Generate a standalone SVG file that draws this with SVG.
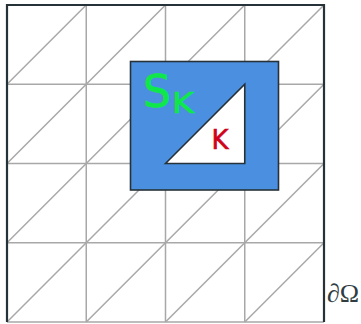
<svg xmlns="http://www.w3.org/2000/svg" width="361" height="324" viewBox="0 0 361 324">
<style>
.mesh{stroke:#a8a8a8;stroke-width:1.5;fill:none}
.frame{stroke:#263238;stroke-width:2.2;fill:none}
.dark{stroke:#263238;stroke-width:1.6}
.sans{font-family:"DejaVu Sans","Noto Sans",sans-serif}
.green{fill:#0ee84a;stroke:#0ee84a;stroke-width:0.7}
.red{fill:#d0021b;stroke:#d0021b;stroke-width:0.6}
</style>
<rect width="361" height="324" fill="#fff"/>
<g id="mesh" class="mesh">
<path d="M86.25 5V322M165.5 5V322M244.75 5V322M7 84.25H324M7 163.5H324M7 242.75H324M7 322H324"/>
<path d="M7 84.25L86.25 5M7 163.5L165.5 5M7 242.75L244.75 5M7 322L324 5M86.25 322L324 84.25M165.5 322L324 163.5M244.75 322L324 242.75"/>
</g>
<g id="boundary">
<path class="frame" d="M7 322V5H324V322"/>
<text x="327" y="302" font-family="Liberation Serif,serif" font-size="26" fill="#2f3d42">∂Ω</text>
</g>
<g id="patch">
<rect class="dark" x="130.5" y="61.5" width="148" height="128.5" fill="#4a8fe0"/>
<text class="sans green" x="143" y="106.5" font-size="44">S</text>
<text class="sans green" x="172" y="113" font-size="29" textLength="22" lengthAdjust="spacingAndGlyphs">K</text>
</g>
<g id="element">
<path class="dark" d="M165.5 163.5L244.75 84.25V163.5Z" fill="#fff"/>
<text class="sans red" x="211.5" y="149" font-size="26" textLength="17" lengthAdjust="spacingAndGlyphs">K</text>
</g>
</svg>
